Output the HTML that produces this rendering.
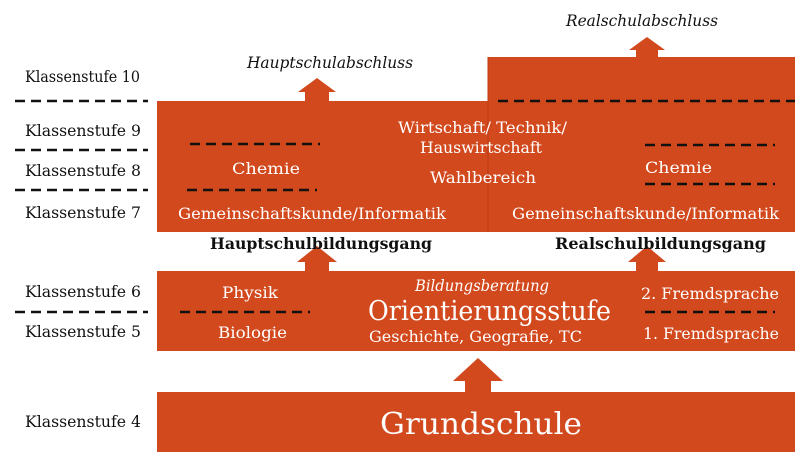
<!DOCTYPE html>
<html><head><meta charset="utf-8"><style>
html,body{margin:0;padding:0;background:#fff;}
svg{display:block;}
text{font-family:"DejaVu Serif","Liberation Serif",serif;}
</style></head><body>
<svg width="800" height="459" viewBox="0 0 800 459" xmlns="http://www.w3.org/2000/svg">
<g fill="#d2491e">
<rect x="157" y="101" width="332" height="131"/>
<rect x="488" y="57" width="307" height="175"/>
<rect x="157" y="271" width="638" height="80"/>
<rect x="157" y="392" width="638" height="60"/>
<polygon points="305,101 305,92 298,92 317,78 336,92 329,92 329,101"/>
<polygon points="636,57 636,50 629,50 647,37 665,50 658,50 658,57"/>
<polygon points="305,271 305,262 297,262 317,246 337,262 329,262 329,271"/>
<polygon points="636,271 636,262 628,262 647,246 666,262 658,262 658,271"/>
<polygon points="465,392 465,381 453,381 478,358 503,381 491,381 491,392"/>
</g>
<line x1="488" y1="57" x2="488" y2="232" stroke="#b83c16" stroke-width="1"/>
<g stroke="#111" stroke-width="2.5" stroke-dasharray="10,6">
<line x1="15" y1="101" x2="148" y2="101"/>
<line x1="15" y1="150" x2="148" y2="150"/>
<line x1="15" y1="190" x2="148" y2="190"/>
<line x1="15" y1="312" x2="148" y2="312"/>
<line x1="190" y1="144" x2="320" y2="144"/>
<line x1="187" y1="190" x2="317" y2="190"/>
<line x1="498" y1="101" x2="795" y2="101"/>
<line x1="645" y1="145" x2="775" y2="145"/>
<line x1="645" y1="184" x2="775" y2="184"/>
<line x1="180" y1="312" x2="310" y2="312"/>
<line x1="645" y1="312" x2="775" y2="312"/>
</g>
<g font-size="15.5" fill="#111">
<text x="25" y="82" textLength="115" lengthAdjust="spacingAndGlyphs">Klassenstufe 10</text>
<text x="25" y="136" textLength="116" lengthAdjust="spacingAndGlyphs">Klassenstufe 9</text>
<text x="25" y="176" textLength="116" lengthAdjust="spacingAndGlyphs">Klassenstufe 8</text>
<text x="25" y="218" textLength="116" lengthAdjust="spacingAndGlyphs">Klassenstufe 7</text>
<text x="25" y="297" textLength="116" lengthAdjust="spacingAndGlyphs">Klassenstufe 6</text>
<text x="25" y="337" textLength="116" lengthAdjust="spacingAndGlyphs">Klassenstufe 5</text>
<text x="25" y="427" textLength="116" lengthAdjust="spacingAndGlyphs">Klassenstufe 4</text>
<text x="247" y="68" font-style="italic" textLength="166" lengthAdjust="spacingAndGlyphs">Hauptschulabschluss</text>
<text x="566" y="26" font-style="italic" textLength="152" lengthAdjust="spacingAndGlyphs">Realschulabschluss</text>
<text x="210" y="249" font-weight="bold" textLength="222" lengthAdjust="spacingAndGlyphs">Hauptschulbildungsgang</text>
<text x="555" y="249" font-weight="bold" textLength="211" lengthAdjust="spacingAndGlyphs">Realschulbildungsgang</text>
</g>
<g fill="#fff" font-size="15.5">
<text x="398" y="133" textLength="169" lengthAdjust="spacingAndGlyphs">Wirtschaft/ Technik/</text>
<text x="420" y="153" textLength="122" lengthAdjust="spacingAndGlyphs">Hauswirtschaft</text>
<text x="430" y="183" textLength="106" lengthAdjust="spacingAndGlyphs">Wahlbereich</text>
<text x="232" y="174" textLength="68" lengthAdjust="spacingAndGlyphs">Chemie</text>
<text x="645" y="173" textLength="67" lengthAdjust="spacingAndGlyphs">Chemie</text>
<text x="178" y="219" textLength="268" lengthAdjust="spacingAndGlyphs">Gemeinschaftskunde/Informatik</text>
<text x="512" y="219" textLength="267" lengthAdjust="spacingAndGlyphs">Gemeinschaftskunde/Informatik</text>
<text x="222" y="298" textLength="56" lengthAdjust="spacingAndGlyphs">Physik</text>
<text x="218" y="338" textLength="69" lengthAdjust="spacingAndGlyphs">Biologie</text>
<text x="641" y="299" textLength="138" lengthAdjust="spacingAndGlyphs">2. Fremdsprache</text>
<text x="643" y="339" textLength="136" lengthAdjust="spacingAndGlyphs">1. Fremdsprache</text>
<text x="415" y="291" font-style="italic" textLength="134" lengthAdjust="spacingAndGlyphs">Bildungsberatung</text>
<text x="368" y="320" font-size="27" textLength="243" lengthAdjust="spacingAndGlyphs">Orientierungsstufe</text>
<text x="369" y="342" textLength="213" lengthAdjust="spacingAndGlyphs">Geschichte, Geografie, TC</text>
<text x="380" y="434" font-size="30" textLength="202" lengthAdjust="spacingAndGlyphs">Grundschule</text>
</g>
</svg>
</body></html>
